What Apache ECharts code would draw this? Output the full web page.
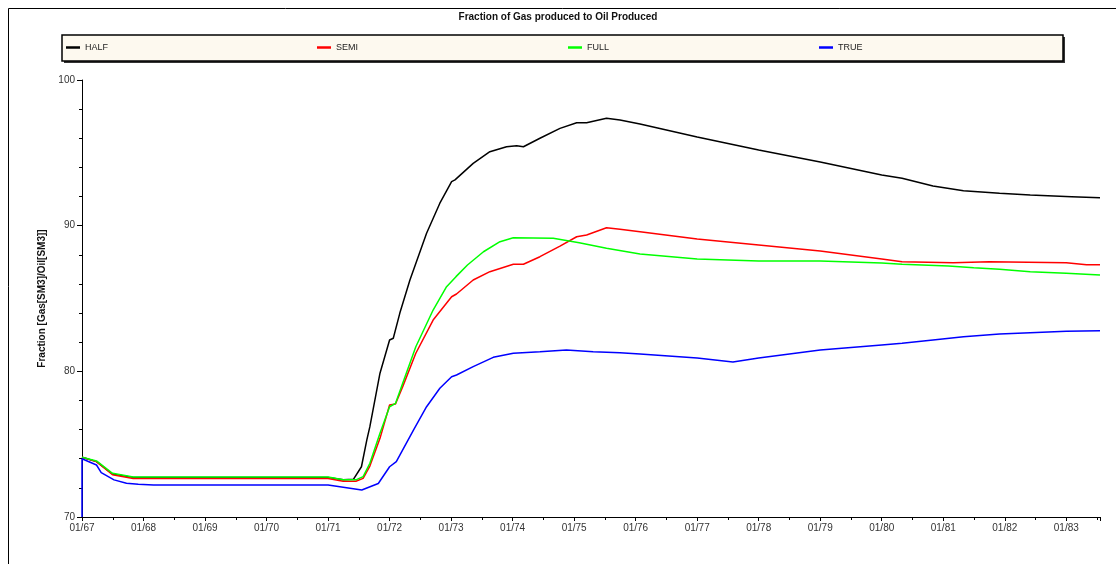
<!DOCTYPE html>
<html>
<head>
<meta charset="utf-8">
<script src="https://cdn.jsdelivr.net/npm/echarts@6/dist/echarts.min.js"></script>
<style>html,body{margin:0;padding:0;background:#fff}#c{width:1116px;height:564px}</style>
</head>
<body>
<div id="c"></div>
<script>
const titleText = 'Fraction of Gas produced to Oil Produced';
const yAxisTitle = 'Fraction [Gas[SM3]/Oil[SM3]]';
const seriesNames = ['HALF', 'SEMI', 'FULL', 'TRUE'];
const seriesColors = ['#000000', '#ff0000', '#00ff00', '#0000ff'];
const xStartYear = 1967;
const xEndDate = '1983-07-20';
const yMin = 70, yMax = 100, yStep = 10;

const halfData = [['1967-01-01',74.1],['1967-03-28',73.8],['1967-07-01',72.95],['1967-11-01',72.72],['1971-01-01',72.72],['1971-04-01',72.55],['1971-06-01',72.6],['1971-07-18',73.45],['1971-08-19',75.3],['1971-09-06',76.2],['1971-11-05',79.87],['1972-01-01',82.15],['1972-01-23',82.27],['1972-03-02',84.0],['1972-05-01',86.27],['1972-08-08',89.48],['1972-10-26',91.54],['1973-01-04',93.02],['1973-01-24',93.14],['1973-05-12',94.28],['1973-08-19',95.08],['1973-11-26',95.42],['1974-01-25',95.49],['1974-03-06',95.42],['1974-06-12',96.0],['1974-10-09',96.68],['1975-01-16',97.07],['1975-03-16',97.07],['1975-07-12',97.37],['1975-09-30',97.25],['1976-01-27',96.98],['1977-01-01',96.09],['1978-01-01',95.19],['1979-01-01',94.37],['1980-01-01',93.48],['1980-05-01',93.25],['1980-11-01',92.72],['1981-05-01',92.4],['1981-12-01',92.22],['1982-06-01',92.1],['1983-02-01',91.99],['1983-07-20',91.92]];

const semiData = [['1967-01-01',74.1],['1967-03-28',73.8],['1967-07-01',72.9],['1967-11-01',72.65],['1971-01-01',72.65],['1971-04-01',72.45],['1971-06-15',72.45],['1971-07-28',72.65],['1971-09-06',73.5],['1971-11-05',75.4],['1972-01-01',77.69],['1972-02-05',77.76],['1972-03-19',78.95],['1972-06-05',81.24],['1972-09-16',83.52],['1973-01-04',85.12],['1973-02-02',85.31],['1973-05-12',86.27],['1973-08-19',86.84],['1974-01-05',87.35],['1974-03-06',87.35],['1974-06-12',87.87],['1974-10-09',88.6],['1975-01-16',89.24],['1975-03-16',89.36],['1975-07-12',89.86],['1975-09-30',89.75],['1976-01-27',89.59],['1977-01-01',89.08],['1978-01-01',88.67],['1979-01-01',88.26],['1980-01-01',87.71],['1980-05-01',87.53],['1981-03-01',87.46],['1981-10-01',87.53],['1983-01-01',87.46],['1983-05-01',87.32],['1983-07-20',87.32]];

const fullData = [['1967-01-01',74.1],['1967-03-28',73.85],['1967-07-01',73.0],['1967-11-01',72.75],['1971-01-01',72.75],['1971-04-01',72.55],['1971-06-15',72.55],['1971-07-28',72.77],['1971-09-06',73.69],['1971-11-05',75.75],['1972-01-01',77.57],['1972-02-05',77.8],['1972-03-19',79.18],['1972-06-05',81.69],['1972-09-16',84.21],['1972-12-05',85.81],['1973-01-30',86.5],['1973-04-08',87.3],['1973-07-12',88.21],['1973-10-18',88.9],['1974-01-05',89.17],['1974-08-30',89.13],['1975-01-31',88.83],['1975-07-12',88.45],['1976-01-27',88.06],['1977-01-01',87.71],['1978-01-01',87.57],['1979-01-01',87.57],['1980-01-01',87.44],['1980-05-01',87.35],['1981-02-01',87.23],['1981-07-01',87.11],['1981-12-01',87.0],['1982-06-01',86.84],['1983-01-01',86.73],['1983-07-20',86.61]];

const trueData = [['1967-01-01',70.0],['1967-01-01',74.0],['1967-03-28',73.57],['1967-04-25',73.05],['1967-07-10',72.55],['1967-09-22',72.32],['1967-12-01',72.25],['1968-03-01',72.2],['1971-01-01',72.2],['1971-07-20',71.85],['1971-10-26',72.3],['1972-01-01',73.45],['1972-02-10',73.8],['1972-05-22',75.97],['1972-08-08',77.57],['1972-10-26',78.84],['1973-01-04',79.63],['1973-02-02',79.75],['1973-05-12',80.32],['1973-09-08',80.96],['1974-01-05',81.24],['1974-06-12',81.35],['1974-11-16',81.47],['1975-04-24',81.35],['1975-09-30',81.28],['1976-01-27',81.19],['1977-01-01',80.92],['1977-08-01',80.64],['1978-01-01',80.92],['1979-01-01',81.47],['1980-01-01',81.81],['1980-05-01',81.92],['1980-11-01',82.15],['1981-05-01',82.38],['1981-12-01',82.56],['1982-06-01',82.65],['1983-01-01',82.75],['1983-07-20',82.79]];

function toYear(s) {
  const p = s.split('-').map(Number);
  const y = p[0], m = p[1], d = p[2] || 1;
  const start = Date.UTC(y, 0, 1), end = Date.UTC(y + 1, 0, 1);
  return y + (Date.UTC(y, m - 1, d) - start) / (end - start);
}
function conv(arr) { return arr.map(r => [toYear(r[0]), r[1]]); }

const allData = [halfData, semiData, fullData, trueData];
const font = 'Liberation Sans, Arial, sans-serif';
const legendLefts = [66, 317, 568, 819];

const chart = echarts.init(document.getElementById('c'), null, {renderer: 'canvas'});
chart.setOption({
  animation: false,
  backgroundColor: '#ffffff',
  title: {
    text: titleText, left: 'center', top: 12, padding: 0,
    textStyle: {fontFamily: font, fontSize: 10, fontWeight: 'bold', color: '#111'}
  },
  graphic: [
    {type: 'rect', shape: {x: 8.5, y: 8.5, width: 1130, height: 580}, style: {fill: 'none', stroke: '#000', lineWidth: 1}, silent: true, z: -10},
    {type: 'rect', shape: {x: 64, y: 37, width: 1001, height: 26}, style: {fill: '#333', stroke: 'none'}, silent: true, z: -2},
    {type: 'rect', shape: {x: 62, y: 35, width: 1001, height: 26}, style: {fill: '#fdf9ef', stroke: '#000', lineWidth: 1.5}, silent: true, z: -1}
  ],
  legend: legendLefts.map((l, i) => ({
    data: [seriesNames[i]], left: l, top: 43, padding: 0,
    icon: 'rect', itemWidth: 14, itemHeight: 2.5, itemGap: 5,
    textStyle: {fontFamily: font, fontSize: 9, color: '#222'}
  })),
  grid: {left: 82, right: 16, top: 80, bottom: 47, containLabel: false},
  xAxis: {
    type: 'value', min: xStartYear, max: toYear(xEndDate), interval: 1,
    axisLine: {show: true, onZero: false, lineStyle: {color: '#000', width: 1}},
    axisTick: {show: true, inside: false, length: 4, lineStyle: {color: '#000'}},
    minorTick: {show: true, splitNumber: 2, length: 3, lineStyle: {color: '#000'}},
    splitLine: {show: false},
    axisLabel: {
      fontFamily: font, fontSize: 10, color: '#333', margin: 6,
      formatter: v => '01/' + String(Math.round(v)).slice(2),
      showMaxLabel: false
    }
  },
  yAxis: {
    type: 'value', min: yMin, max: yMax, interval: yStep,
    name: yAxisTitle, nameLocation: 'middle', nameGap: 31, nameRotate: 90,
    nameTextStyle: {fontFamily: font, fontSize: 10, fontWeight: 'bold', color: '#111'},
    axisLine: {show: true, onZero: false, lineStyle: {color: '#000', width: 1}},
    axisTick: {show: true, inside: false, length: 5, lineStyle: {color: '#000'}},
    minorTick: {show: true, splitNumber: 5, length: 3, lineStyle: {color: '#000'}},
    splitLine: {show: false},
    axisLabel: {fontFamily: font, fontSize: 10, color: '#333', margin: 7}
  },
  series: seriesNames.map((n, i) => ({
    name: n, type: 'line', data: conv(allData[i]), showSymbol: false, symbol: 'none',
    lineStyle: {color: seriesColors[i], width: 1.5}, itemStyle: {color: seriesColors[i]},
    clip: true
  }))
});
</script>
</body>
</html>
